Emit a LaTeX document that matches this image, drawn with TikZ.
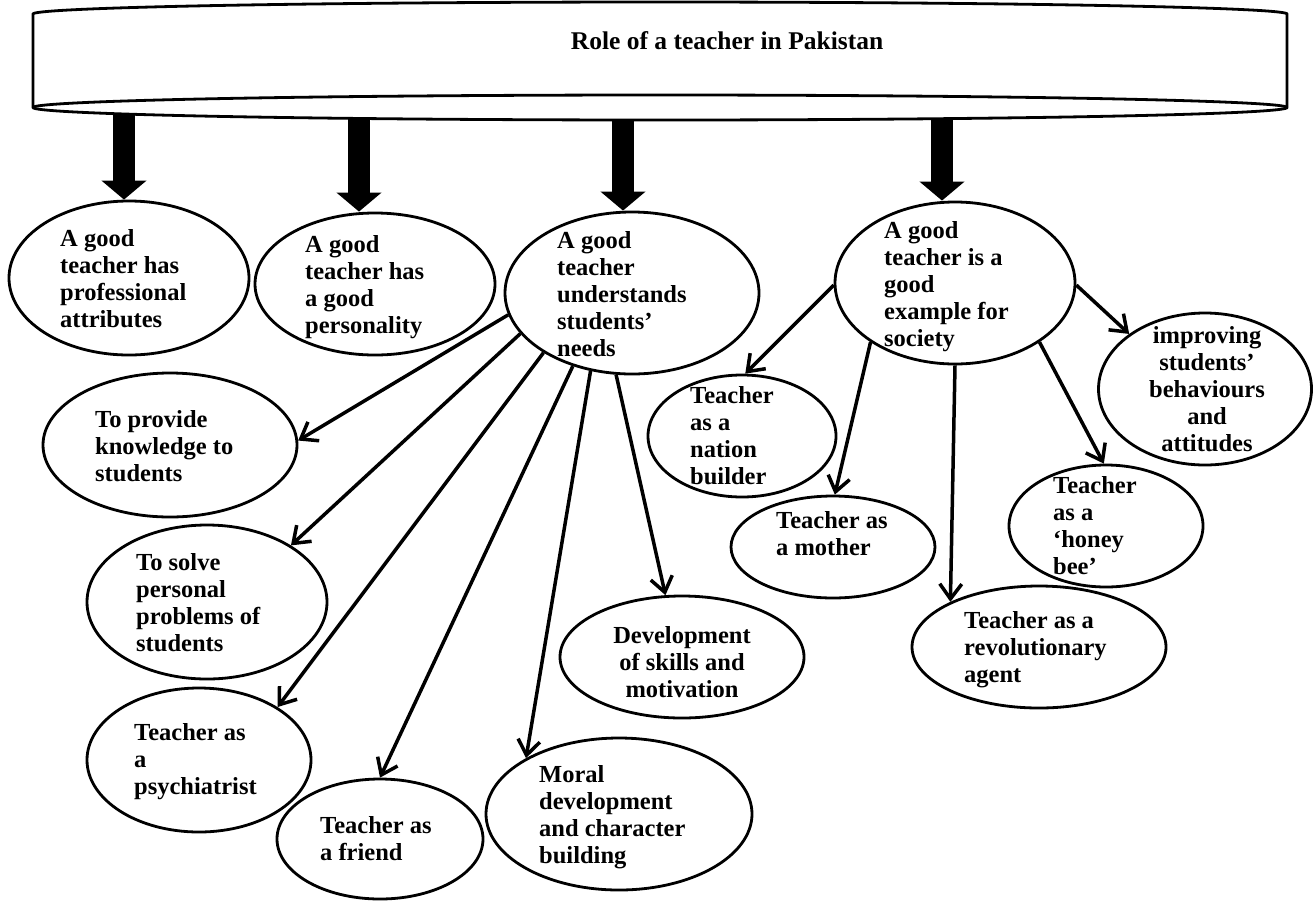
\documentclass[tikz,border=0pt]{standalone}
\usepackage{fontspec}
\setmainfont{Liberation Serif}
\usetikzlibrary{arrows.meta,shapes.geometric}
\begin{document}
\begin{tikzpicture}[x=1pt,y=-1pt,
  bubble/.style={draw,ellipse,line width=2.8pt,inner sep=0pt},
  txt/.style={inner sep=0pt,font=\fontsize{24.5pt}{27pt}\selectfont\bfseries,align=left,anchor=north west},
  ctxt/.style={txt,align=center,anchor=north},
  link/.style={line width=3.5pt,-{Straight Barb[length=15pt,width=22pt]}},
  blockarrow/.style={line width=22pt,-{Triangle[length=19pt,width=44pt]}}
]
\useasboundingbox (0,0) rectangle (1313,900);

% ---- ellipses ----
\node[bubble,minimum width=240pt,minimum height=154pt] (e1) at (129,278) {};
\node[bubble,minimum width=240pt,minimum height=142pt] (e2) at (375,284) {};
\node[bubble,minimum width=254pt,minimum height=162pt] (e3) at (632,293) {};
\node[bubble,minimum width=240pt,minimum height=162pt] (e4) at (955,283) {};
\node[bubble,minimum width=213pt,minimum height=152pt] (e5) at (1205,389) {};
\node[bubble,minimum width=254pt,minimum height=144pt] (e6) at (170,445) {};
\node[bubble,minimum width=240pt,minimum height=154pt] (e7) at (207,602) {};
\node[bubble,minimum width=224pt,minimum height=144pt] (e8) at (199,760) {};
\node[bubble,minimum width=206pt,minimum height=120pt] (e9) at (380,839) {};
\node[bubble,minimum width=266pt,minimum height=152pt] (e10) at (619,814) {};
\node[bubble,minimum width=244pt,minimum height=122pt] (e11) at (682,657) {};
\node[bubble,minimum width=188pt,minimum height=122pt] (e12) at (742,436) {};
\node[bubble,minimum width=204pt,minimum height=102pt] (e13) at (833,547) {};
\node[bubble,minimum width=194pt,minimum height=122pt] (e14) at (1106,526) {};
\node[bubble,minimum width=254pt,minimum height=122pt] (e15) at (1039,647) {};

% ---- texts ----
\node[txt] (t1) at (60,229) {A good\\teacher has\\professional\\attributes};
\node[txt] (t2) at (305,235) {A good\\teacher has\\a good\\personality};
\node[txt] (t3) at (557,231) {A good\\teacher\\understands\\students’\\needs};
\node[txt] (t4) at (884,221) {A good\\teacher is a\\good\\example for\\society};
\node[ctxt] (t5) at (1207,326) {improving\\students’\\behaviours\\and\\attitudes};
\node[txt] (t6) at (95,410) {To provide\\knowledge to\\students};
\node[txt] (t7) at (136,553) {To solve\\personal\\problems of\\students};
\node[txt] (t8) at (134,723) {Teacher as\\a\\psychiatrist};
\node[txt] (t9) at (320,816) {Teacher as\\a friend};
\node[txt] (t10) at (539,765) {Moral\\development\\and character\\building};
\node[ctxt] (t11) at (682,626) {Development\\of skills and\\motivation};
\node[txt] (t12) at (690,386) {Teacher\\as a\\nation\\builder};
\node[txt] (t13) at (776,511) {Teacher as\\a mother};
\node[txt] (t14) at (1053,476) {Teacher\\as a\\‘honey\\bee’};
\node[txt] (t15) at (964,611) {Teacher as a\\revolutionary\\agent};

% ---- block arrows from the banner ----
\coordinate (a1) at (124,100);
\coordinate (a2) at (359,100);
\coordinate (a3) at (623,100);
\coordinate (a4) at (942,100);
\draw[blockarrow] (a1) -- (a1 |- e1.north);
\draw[blockarrow] (a2) -- (a2 |- e2.north);
\draw[blockarrow] (a3) -- (a3 |- e3.north);
\draw[blockarrow] (a4) -- (a4 |- e4.north);

% ---- banner (flat cylinder seen from below) ----
\path[draw,fill=white,line width=2.8pt]
  plot[domain=180:0,samples=90] ({660+627*cos(\x)},{14-12*sin(\x)})
  -- plot[domain=0:-180,samples=90] ({660+627*cos(\x)},{107.5-12.5*sin(\x)})
  -- cycle;
\draw[line width=2.8pt]
  plot[domain=180:0,samples=90] ({660+627*cos(\x)},{107.5-12.5*sin(\x)});
\node[inner sep=0pt,anchor=base,font=\fontsize{25.5pt}{28pt}\selectfont\bfseries] (title) at (727,49) {Role of a teacher in Pakistan};

% ---- connectors ----
\draw[link] (e3.190) -- (e6.2);
\draw[link] (e3.200) -- (e7.34);
\draw[link] (e3.214) -- (e8.34);
\draw[link] (e3.231) -- (e9.90);
\draw[link] (e3.242) -- (e10.149);
\draw[link] (e3.259) -- (e11.105);
\draw[link] (e4.181) -- (e12.87);
\draw[link] (e4.215) -- (e13.88);
\draw[link] (e4.270) -- (e15.153);
\draw[link] (e4.325) -- (e14.92);
\draw[link] (e4.359) -- (e5.144);
\end{tikzpicture}
\end{document}
